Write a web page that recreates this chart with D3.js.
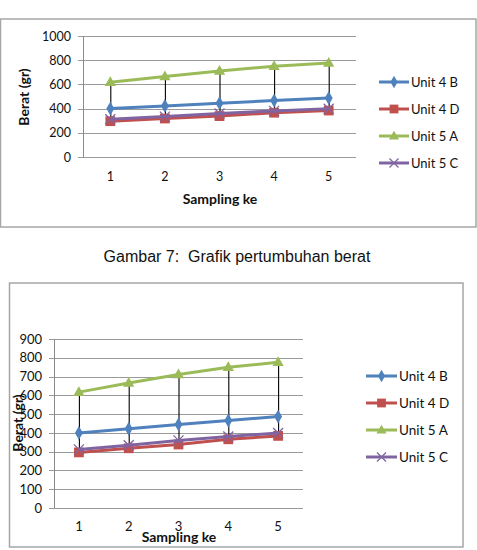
<!DOCTYPE html>
<html>
<head>
<meta charset="utf-8">
<script src="https://cdn.jsdelivr.net/npm/d3@7"></script>
<style>
  html, body { margin: 0; padding: 0; background: #fff; }
  svg { display: block; }
  text { font-family: Lato, "Open Sans", sans-serif; fill: #111; }
</style>
</head>
<body>
<svg id="chart" width="477" height="550"></svg>
<script>
// ---- data ----
const categories = ["1", "2", "3", "4", "5"];
const seriesNames = ["Unit 4 B", "Unit 4 D", "Unit 5 A", "Unit 5 C"];
const unit4B = [400, 422, 445, 466, 487];
const unit4D = [296, 318, 338, 366, 384];
const unit5A = [617, 666, 711, 750, 776];
const unit5C = [312, 334, 360, 381, 399];
const topTicks = [0, 200, 400, 600, 800, 1000];
const bottomTicks = [0, 100, 200, 300, 400, 500, 600, 700, 800, 900];
const xTitle = "Sampling ke";
const yTitle = "Berat (gr)";
const caption = "Gambar 7:  Grafik pertumbuhan berat";

const colors = ["#4F81BD", "#C0504D", "#9BBB59", "#8064A2"];
const symbols = ["diamond", "square", "triangle", "cross"];
const seriesData = [unit4B, unit4D, unit5A, unit5C];

const svg = d3.select("#chart");
svg.append("rect").attr("width", 477).attr("height", 550).attr("fill", "#fff");

function marker(g, type, x, y, color, size) {
  if (type === "cross") {
    const s = size * 0.5;
    g.append("path")
      .attr("d", `M${x - s},${y - s}L${x + s},${y + s}M${x - s},${y + s}L${x + s},${y - s}`)
      .attr("stroke", color).attr("stroke-width", 1.3).attr("fill", "none");
  } else {
    const symType = type === "diamond" ? d3.symbolDiamond : type === "square" ? d3.symbolSquare : d3.symbolTriangle;
    const area = type === "diamond" ? size * size * 0.55 : type === "square" ? size * size * 0.95 : size * size * 0.55;
    g.append("path")
      .attr("d", d3.symbol().type(symType).size(area)())
      .attr("transform", `translate(${x},${type === "triangle" ? y + 0.5 : y})`)
      .attr("fill", color);
  }
}

function drawChart(cfg) {
  const g = svg.append("g");
  // outer frame
  g.append("rect")
    .attr("x", cfg.frame[0]).attr("y", cfg.frame[1])
    .attr("width", cfg.frame[2]).attr("height", cfg.frame[3])
    .attr("fill", "#fff").attr("stroke", "#a6a6a6").attr("stroke-width", 1.5);

  const x = d3.scaleBand().domain(categories).range([cfg.left, cfg.right]);
  const y = d3.scaleLinear().domain([0, cfg.ticks[cfg.ticks.length - 1]]).range([cfg.bottom, cfg.top]);

  // gridlines
  g.append("g").selectAll("line").data(cfg.ticks).join("line")
    .attr("x1", cfg.left - 5).attr("x2", cfg.right)
    .attr("y1", d => Math.round(y(d)) + 0.5).attr("y2", d => Math.round(y(d)) + 0.5)
    .attr("stroke", "#9a9a9a").attr("stroke-width", 1);

  // y axis line
  g.append("line")
    .attr("x1", cfg.left + 0.5).attr("x2", cfg.left + 0.5)
    .attr("y1", cfg.top).attr("y2", cfg.bottom + 0.5)
    .attr("stroke", "#8a8a8a").attr("stroke-width", 1);

  // y tick labels
  g.append("g").selectAll("text").data(cfg.ticks).join("text")
    .attr("x", cfg.yLabelX).attr("y", d => y(d))
    .attr("dy", "0.36em").attr("text-anchor", "end")
    .attr("font-size", cfg.tickSize)
    .text(d => d);

  // x tick labels
  g.append("g").selectAll("text").data(categories).join("text")
    .attr("x", d => x(d) + x.bandwidth() / 2).attr("y", cfg.xLabelY)
    .attr("text-anchor", "middle").attr("font-size", cfg.tickSize)
    .text(d => d);

  // axis titles
  g.append("text")
    .attr("x", cfg.xTitlePos[0]).attr("y", cfg.xTitlePos[1])
    .attr("text-anchor", "middle").attr("font-size", cfg.titleSize).attr("font-weight", "bold")
    .text(xTitle);
  g.append("text")
    .attr("transform", `translate(${cfg.yTitlePos[0]},${cfg.yTitlePos[1]}) rotate(-90)`)
    .attr("text-anchor", "middle").attr("font-size", cfg.titleSize).attr("font-weight", "bold")
    .text(yTitle);

  const cx = i => x(categories[i]) + x.bandwidth() / 2;

  // high-low lines
  g.append("g").selectAll("line").data(categories).join("line")
    .attr("x1", (d, i) => cx(i) + 0.5).attr("x2", (d, i) => cx(i) + 0.5)
    .attr("y1", (d, i) => y(d3.max(seriesData, s => s[i])))
    .attr("y2", (d, i) => y(d3.min(seriesData, s => s[i])))
    .attr("stroke", "#000").attr("stroke-width", 1.1);

  // series lines & markers
  seriesData.forEach((vals, si) => {
    const line = d3.line().x((d, i) => cx(i)).y(d => y(d));
    g.append("path").datum(vals)
      .attr("d", line).attr("fill", "none")
      .attr("stroke", colors[si]).attr("stroke-width", 3)
      .attr("stroke-linejoin", "round");
    vals.forEach((v, i) => marker(g, symbols[si], cx(i), y(v), colors[si], cfg.markerSize));
  });

  // legend
  seriesNames.forEach((name, si) => {
    const ly = cfg.legendY[si];
    g.append("line")
      .attr("x1", cfg.legendX[0]).attr("x2", cfg.legendX[1])
      .attr("y1", ly).attr("y2", ly)
      .attr("stroke", colors[si]).attr("stroke-width", 3);
    marker(g, symbols[si], (cfg.legendX[0] + cfg.legendX[1]) / 2, ly, colors[si], cfg.markerSize * 0.9);
    g.append("text")
      .attr("x", cfg.legendX[1] + 2).attr("y", ly).attr("dy", "0.36em")
      .attr("font-size", cfg.legendSize)
      .text(name);
  });
}

drawChart({
  frame: [0.5, 19, 475.5, 208],
  left: 83, right: 356, top: 36, bottom: 157,
  ticks: topTicks,
  yLabelX: 71, xLabelY: 181,
  xTitlePos: [220, 204], yTitlePos: [29, 97],
  tickSize: 12.5, titleSize: 14, legendSize: 13,
  legendX: [379, 409], legendY: [82, 109, 136, 163],
  markerSize: 10
});

svg.append("text")
  .attr("x", 237).attr("y", 262)
  .attr("text-anchor", "middle")
  .style("font-family", "'Liberation Sans', Arial, sans-serif")
  .style("white-space", "pre")
  .attr("xml:space", "preserve")
  .attr("font-size", 16)
  .text(caption);

drawChart({
  frame: [9.5, 283, 453.5, 264],
  left: 54, right: 303, top: 339, bottom: 508,
  ticks: bottomTicks,
  yLabelX: 42, xLabelY: 531,
  xTitlePos: [179, 542], yTitlePos: [23, 423],
  tickSize: 13, titleSize: 14, legendSize: 13.5,
  legendX: [366, 397], legendY: [376, 403, 430, 457],
  markerSize: 10
});
</script>
</body>
</html>
